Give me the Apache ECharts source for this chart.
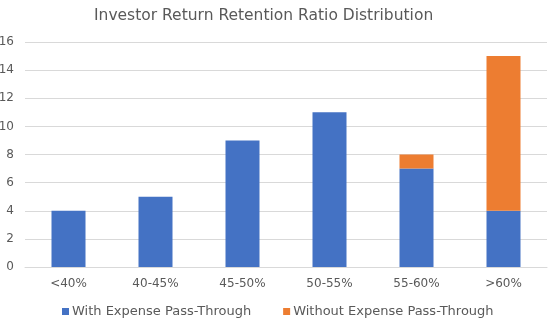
<!DOCTYPE html>
<html>
<head>
<meta charset="utf-8">
<script src="https://cdn.jsdelivr.net/npm/echarts@6/dist/echarts.min.js"></script>
<style>
html,body{margin:0;padding:0;background:#fff;}
#chart{width:551px;height:328px;}
</style>
</head>
<body>
<div id="chart"></div>
<script>
const categories = ['<40%', '40-45%', '45-50%', '50-55%', '55-60%', '>60%'];
const withPassThrough = [4, 5, 9, 11, 7, 4];
const withoutPassThrough = [0, 0, 0, 0, 1, 11];
const yTicks = { min: 0, max: 16, interval: 2 };

const FONT = '"DejaVu Sans", sans-serif';
const TXT = '#595959';

const chart = echarts.init(document.getElementById('chart'), null, { renderer: 'canvas' });
chart.setOption({
  animation: false,
  textStyle: { fontFamily: FONT },
  title: {
    text: 'Investor Return Retention Ratio Distribution',
    left: 89,
    top: 3,
    textStyle: { fontFamily: FONT, fontSize: 15.5, fontWeight: 'normal', color: TXT }
  },
  grid: { left: 25, right: 4, top: 42, bottom: 61, containLabel: false, outerBoundsMode: 'none' },
  legend: {
    bottom: 5,
    left: 57,
    itemWidth: 7,
    itemHeight: 7,
    itemGap: 32,
    icon: 'rect',
    textStyle: { fontFamily: FONT, fontSize: 13, color: TXT, padding: [0, 0, 0, -2] }
  },
  xAxis: {
    type: 'category',
    data: categories,
    axisLine: { lineStyle: { color: '#d9d9d9' } },
    axisTick: { show: false },
    axisLabel: { fontFamily: FONT, fontSize: 12, color: TXT, margin: 11 }
  },
  yAxis: {
    type: 'value',
    min: yTicks.min,
    max: yTicks.max,
    interval: yTicks.interval,
    axisLabel: { fontFamily: FONT, fontSize: 12, color: TXT, margin: 11 },
    splitLine: { lineStyle: { color: '#d9d9d9' } },
    axisLine: { show: false }
  },
  series: [
    {
      name: 'With Expense Pass-Through',
      type: 'bar',
      stack: 'total',
      barWidth: 34,
      itemStyle: { color: '#4472c4' },
      data: withPassThrough
    },
    {
      name: 'Without Expense Pass-Through',
      type: 'bar',
      stack: 'total',
      barWidth: 34,
      itemStyle: { color: '#ed7d31' },
      data: withoutPassThrough
    }
  ]
});
</script>
</body>
</html>
